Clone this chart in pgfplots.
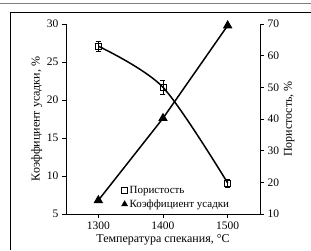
\documentclass[border=0pt]{standalone}
\usepackage{fontspec}
\setmainfont{Liberation Serif}
\usepackage{pgfplots}
\pgfplotsset{compat=1.18}
\begin{document}
\begin{tikzpicture}[x=1pt,y=1pt]
\useasboundingbox (-66,-36) rectangle (245,214);
\begin{axis}[
  at={(0,0)}, anchor=south west,
  scale only axis, width=194pt, height=190pt,
  xmin=1250, xmax=1550, ymin=5, ymax=30,
  axis x line*=bottom, axis y line*=left,
  axis line style={-, line width=0.8pt},
  xtick={1300,1400,1500}, ytick={5,10,15,20,25,30},
  tick align=outside, major tick length=4pt,
  tick style={line width=0.8pt, black},
  /pgf/number format/assume math mode=true,
  /pgf/number format/set thousands separator={},
  ticklabel style={font=\fontsize{11.5}{12}\selectfont},
  label style={font=\fontsize{12}{13}\selectfont},
  xlabel={Температура спекания, °C},
  ylabel={Коэффициент усадки, \%},
  xlabel style={yshift=2pt},
  ylabel style={yshift=-2pt},
]
\addplot[black, line width=1.5pt, mark=triangle*, mark size=4pt, mark options={solid}]
  coordinates {(1300,6.8) (1400,17.6) (1500,29.8)};
\end{axis}
\begin{axis}[
  at={(0,0)}, anchor=south west,
  scale only axis, width=194pt, height=190pt,
  xmin=1250, xmax=1550, ymin=10, ymax=70,
  axis x line=none, axis y line*=right,
  axis line style={-, line width=0.8pt},
  ytick={10,20,30,40,50,60,70},
  tick align=outside, major tick length=4pt,
  tick style={line width=0.8pt, black},
  /pgf/number format/assume math mode=true,
  ticklabel style={font=\fontsize{11.5}{12}\selectfont},
  label style={font=\fontsize{12}{13}\selectfont},
  ylabel={Пористость, \%},
  ylabel style={yshift=2pt},
  legend style={draw=none, fill=none, at={(0.27,0.17)}, anchor=north west,
    font=\fontsize{11}{12}\selectfont, row sep=1pt,
    legend cell align=left},
]
\addplot[black, line width=1.5pt, smooth, forget plot,
  mark=square, mark size=3pt, mark options={solid, fill=white, line width=0.8pt},
  error bars/.cd, y dir=both, y explicit,
  error bar style={line width=0.7pt}, error mark options={rotate=90, mark size=2.5pt, line width=0.7pt}]
  coordinates {(1300,63) +- (0,1.5) (1400,50) +- (0,2.3) (1500,19.8) +- (0,1.3)};
\addlegendimage{only marks, mark=square, mark size=3pt, mark options={line width=0.8pt, black}}
\addlegendentry{Пористость}
\addlegendimage{only marks, mark=triangle*, mark size=3.5pt, black}
\addlegendentry{Коэффициент усадки}
\end{axis}
\draw[line width=0.7pt] (-56,-36) -- (-56,202) -- (245,202);
\draw[line width=0.5pt, gray] (-66,211) -- (245,211);
\end{tikzpicture}
\end{document}
